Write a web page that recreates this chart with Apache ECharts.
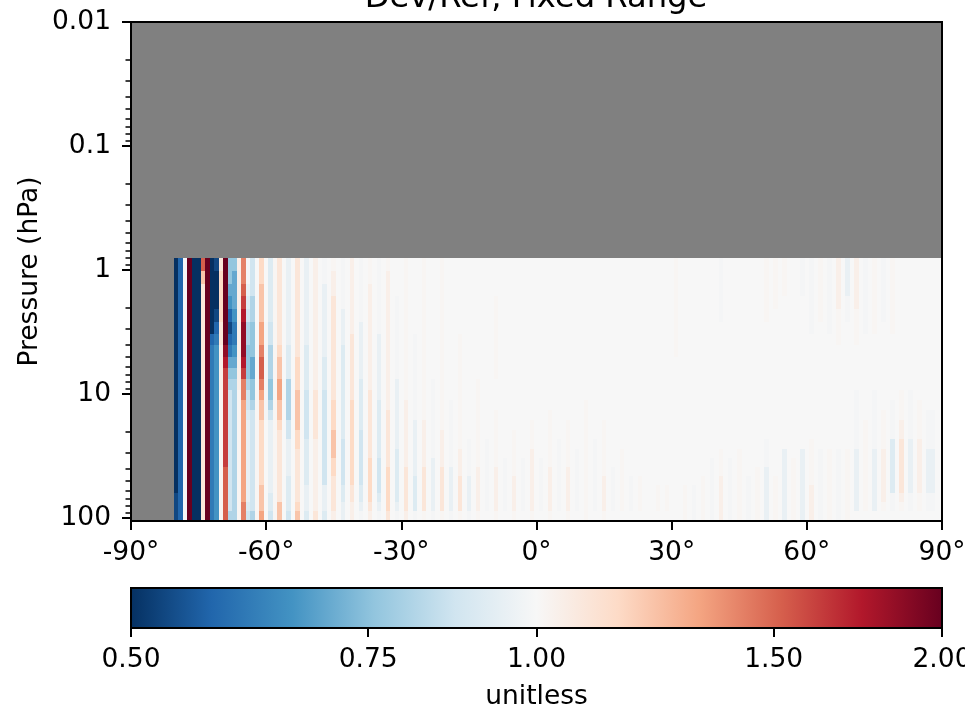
<!DOCTYPE html>
<html>
<head>
<meta charset="utf-8">
<style>html,body{margin:0;padding:0;background:#fff}#chart{width:965px;height:708px}</style>
<script src="https://cdn.jsdelivr.net/npm/echarts@6/dist/echarts.min.js"></script>
</head>
<body>
<div id="chart"></div>
<script>
// Pressure level edges (hPa), top to bottom: 25 data rows
const pressureEdges = [0.80,1.019,1.289,1.629,2.063,2.61,3.28,4.05,5.00,6.17,7.57,9.29,11.2,13.5,16.1,19.4,23.2,27.8,33.0,39.0,46.1,53.8,62.8,74.3,87.9,105.7];
const pressureRange = [0.01,105.7];
const latRange = [-90,90];
const latTicks = [-90,-60,-30,0,30,60,90];
const pressureTicks = [0.01,0.1,1,10,100];
const pressureMinorTicks = [0.02,0.03,0.04,0.05,0.06,0.07,0.08,0.09,0.2,0.3,0.4,0.5,0.6,0.7,0.8,0.9,2,3,4,5,6,7,8,9,20,30,40,50,60,70,80,90];
const colorbarRange = [0.5,2];
const colorbarTicks = [0.5,0.75,1,1.5,2];
const rdBuR = ['#053061','#2166ac','#4393c3','#92c5de','#d1e5f0','#f7f7f7','#fddbc7','#f4a582','#d6604d','#b2182b','#67001f'];
// Dev/Ref ratio, one code per cell
const ratioByCode = {l:0.5,k:0.53,j:0.574,i:0.61,h:0.66,g:0.70,f:0.76,e:0.81,d:0.87,c:0.91,b:0.95,a:0.988,'.':1,
  '1':1.012,'2':1.04,'3':1.09,'4':1.15,'5':1.22,'6':1.32,'7':1.42,'8':1.52,R:1.62,'9':1.74,Y:1.85,X:2};
const firstLatitude = -80;
const E = ".........................";
// One string per latitude (1 degree steps from -80), one character per pressure row, top to bottom
const colsSouthPolar = [ // -80 to -59
"llllllllllllllllllllllkkk","jjjjjjjjjjjjjjjjjjjjjjjjj",E,"XXXXXXXXXXXXXXXXXXXXXXXXX","lllllllllllllllllllllllll","lllllllllllllllllllllllll",
"8533333333333333333333333","XXXXXXXXXXXXXXXXXXXXXXXXX","lllllljiiiiiiiiiiiiiiiiii","klllkjihhhhhhhhhhhhhhhhhh",
"3444433222211111111111111","XXXXXXXY9RRRRRRRRRR888888","ffghjkjigfeddddddddddddde","fggghiihgfeeeeeeeeeeeeeee",
"2222222222211111111111111","778R9YYY9R776666666666677","aabcdeefffeddcbbbbbbbbbcd","dddeefffggffeddddddddddde",
"...........11111111111111","4455566788765544444445556",".....aaaaaaaaa...........","cccccddeeeffedbbbbbbbbccd"
];
const colsSouthMid = [ // -58 to -33
"1111111111111111111111111","3333333455665543333333355",E,"bbbbbbbccceeeeddbbbbccccd",E,"3333333344455554433333345",E,
"bbbbbbbccccdddddcccccbbbc",E,"2222222222233333222222223",E,"aabbbbbbcccddddddddddbbbc",E,
"1223333333334445554433332",E,"aaaabbbcccccccccdddddccbb",E,"2222223333334444444443322",E,
"aaaaabbbbbcccccddddddccba",E,"1122222222233333334444432",E,"aaaaaabbbbbbccccccddddcba",E,
"1222222222222333333444443"
];
const colsTropics = [ // -32 to 20
E,"...aaaaaaabbbbbbbccccccba",E,"1111111111112222222333332",E,"......aaaaaaaabbbbbbcccca",E,
"1111111111111122222333331",E,"..........aaaaaaaabbbbbba",E,"1111111111111112222333331",E,
"............aaaaaaabbbbba",E,"......1111111111122233331",E,"................aaaabbbba",E,
"..........111111111222221",E,"................aaaaaaaa.",E,"...1111111...111111222221",E,
"..................aaaaaa.",E,"...............1111122221",E,"..................aaaaaa.",E,
"..............11122222221",E,"..................aaaaaa.",E,".............111111222221",E,
"................aaaaaaaa.",E,"..............11111222221",E,".................aaaaaaa.",E,
"............1111111111111",E,"................aaaaaaaa.",E,"..............11111122221",E,
"...................aaaaa.",E,".................1111111.",E
];
const colsNorth = [ // 21 to 90
"....................aaaa.",E,"....................1111.",E,E,E,".....................111.",E,
".....................111.",E,"11111111.................",E,".....................1111",E,
".....................aaaa",E,"....................11111",E,"..................aaaaaaa",E,
"aaaaa............11122222",E,"..................aaaaaaa",E,".................11111111",E,
"....................aaaaa",E,"...................111111",E,"11111...........aaabbbbbb",E,
"1111................11111",E,"111..............bbbbbbbb",E,"..................1111111",E,
"aaa..............bbbbbbbb",E,"aaaaaa..........111112222",E,"11111............aaaaaaaa",E,
"aaaaaa...........11111111",E,"2222111..........aaaaaaaa",E,"bbbaa............11111111",E,
"2222111....aaaaaabbbbbbb.",E,"aaaaaa........1111111111.",E,"111111.....aaaaaabbbbbbb.",E,
"aaaaa........1111222222 1.".replace(' ','').slice(0,25),E,"111111......aaaaccccccaa.",E,
"...........11122333333 21".replace(' ',''),E,"...........aaaaabbbbbbaa.",E,
"............1111222222 11".replace(' ',''),E,".............aaaabbbbbaa.",".............aaaabbbbbaa.",E,E
];
const latitudeColumns = [...colsSouthPolar, ...colsSouthMid, ...colsTropics, ...colsNorth];

function ratioColor(v) {
  const t = Math.max(0, Math.min(1, Math.log(v / colorbarRange[0]) / Math.log(colorbarRange[1] / colorbarRange[0])));
  const p = t * (rdBuR.length - 1), i = Math.min(rdBuR.length - 2, Math.floor(p)), f = p - i;
  const a = parseInt(rdBuR[i].slice(1), 16), b = parseInt(rdBuR[i + 1].slice(1), 16);
  const mix = s => Math.round(((a >> s) & 255) * (1 - f) + ((b >> s) & 255) * f);
  return 'rgb(' + mix(16) + ',' + mix(8) + ',' + mix(0) + ')';
}

const cells = [];
latitudeColumns.forEach((col, c) => {
  const lat = firstLatitude + c;
  if (lat > latRange[1]) return;
  for (let r = 0; r < pressureEdges.length - 1; r++) {
    const code = col[r];
    const ratio = code === undefined ? 1 : ratioByCode[code];
    cells.push([lat, pressureEdges[r], pressureEdges[r + 1], ratio]);
  }
});

const FONT = 'DejaVu Sans';
const TICK = 26.5;
const chart = echarts.init(document.getElementById('chart'), null, {renderer: 'canvas'});

function frameItem(params, api) {
  const a = api.coord([api.value(0), api.value(2)]);
  const b = api.coord([api.value(1), api.value(3)]);
  return {type: 'rect', shape: {x: a[0], y: a[1], width: b[0] - a[0], height: b[1] - a[1]},
    style: {fill: null, stroke: '#000', lineWidth: 2}};
}

chart.setOption({
  animation: false,
  backgroundColor: '#fff',
  textStyle: {fontFamily: FONT, color: '#000'},
  title: {text: 'Dev/Ref, Fixed Range', left: 531, textAlign: 'center', top: -22,
    textStyle: {fontFamily: FONT, fontSize: 32.2, fontWeight: 'normal', color: '#000'}},
  grid: [
    {left: 131, top: 22, width: 811, height: 499, show: true, backgroundColor: '#808080', borderColor: '#000', borderWidth: 2, outerBoundsMode: 'none', containLabel: false},
    {left: 131, top: 588, width: 811, height: 40, show: false, outerBoundsMode: 'none', containLabel: false}
  ],
  xAxis: [
    {type: 'value', gridIndex: 0, min: latRange[0], max: latRange[1], interval: 30, splitLine: {show: false},
      axisLine: {show: true, onZero: false, lineStyle: {color: '#000', width: 2}},
      axisTick: {show: true, length: 9, lineStyle: {color: '#000', width: 2}},
      axisLabel: {show: true, color: '#000', fontFamily: FONT, fontSize: TICK, margin: 19, hideOverlap: false,
        showMinLabel: true, showMaxLabel: true, formatter: v => v + '°', customValues: latTicks}},
    {type: 'log', gridIndex: 1, logBase: 2, min: colorbarRange[0], max: colorbarRange[1], splitLine: {show: false},
      name: 'unitless', nameLocation: 'middle', nameGap: 56, nameMoveOverlap: false,
      nameTextStyle: {fontFamily: FONT, fontSize: TICK, color: '#000'},
      axisLine: {show: true, onZero: false, lineStyle: {color: '#000', width: 2}},
      axisTick: {show: true, length: 9, customValues: colorbarTicks, lineStyle: {color: '#000', width: 2}},
      minorTick: {show: false},
      axisLabel: {show: true, color: '#000', fontFamily: FONT, fontSize: TICK, margin: 19, hideOverlap: false,
        customValues: colorbarTicks, formatter: v => Number(v).toFixed(2)}}
  ],
  yAxis: [
    {type: 'log', gridIndex: 0, logBase: 10, inverse: true, min: pressureRange[0], max: pressureRange[1], splitLine: {show: false},
      name: 'Pressure (hPa)', nameLocation: 'middle', nameGap: 87, nameRotate: 90, nameMoveOverlap: false,
      nameTextStyle: {fontFamily: FONT, fontSize: TICK, color: '#000'},
      axisLine: {show: true, onZero: false, lineStyle: {color: '#000', width: 2}},
      axisTick: {show: true, length: 9, customValues: pressureTicks, lineStyle: {color: '#000', width: 2}},
      minorTick: {show: false},
      axisLabel: {show: true, color: '#000', fontFamily: FONT, fontSize: TICK, margin: 20, hideOverlap: false, padding: [3, 0, 0, 0],
        customValues: pressureTicks, formatter: v => String(v)}},
    {type: 'log', gridIndex: 0, logBase: 10, inverse: true, min: pressureRange[0], max: pressureRange[1], position: 'left', splitLine: {show: false},
      axisLine: {show: false, onZero: false},
      axisTick: {show: true, length: 5.5, customValues: pressureMinorTicks, lineStyle: {color: '#000', width: 1.5}},
      axisLabel: {show: false}},
    {type: 'value', gridIndex: 1, min: 0, max: 1, show: false}
  ],
  series: [
    {type: 'custom', coordinateSystem: 'cartesian2d', xAxisIndex: 0, yAxisIndex: 0, clip: true, silent: true,
      progressive: 0, data: cells, encode: {x: 0, y: 1},
      renderItem(params, api) {
        const a = api.coord([api.value(0) - 0.5, api.value(1)]);
        const b = api.coord([api.value(0) + 0.5, api.value(2)]);
        const x0 = Math.round(a[0]), x1 = Math.round(b[0]), y0 = Math.round(a[1]), y1 = Math.round(b[1]);
        return {type: 'rect', shape: {x: x0, y: y0, width: x1 - x0, height: y1 - y0},
          style: {fill: ratioColor(api.value(3))}};
      }},
    {type: 'custom', coordinateSystem: 'cartesian2d', xAxisIndex: 0, yAxisIndex: 0, clip: false, silent: true, z: 5,
      data: [[latRange[0], latRange[1], pressureRange[0], pressureRange[1]]], encode: {x: 0, y: 2},
      renderItem: frameItem},
    {type: 'custom', coordinateSystem: 'cartesian2d', xAxisIndex: 1, yAxisIndex: 2, clip: false, silent: true,
      data: [[colorbarRange[0], colorbarRange[1], 1, 0]], encode: {x: 0, y: 2},
      renderItem(params, api) {
        const a = api.coord([api.value(0), api.value(2)]);
        const b = api.coord([api.value(1), api.value(3)]);
        return {type: 'rect', shape: {x: a[0], y: a[1], width: b[0] - a[0], height: b[1] - a[1]},
          style: {stroke: '#000', lineWidth: 2, fill: {type: 'linear', x: 0, y: 0, x2: 1, y2: 0, global: false,
            colorStops: rdBuR.map((color, i) => ({offset: i / (rdBuR.length - 1), color}))}}};
      }}
  ]
});
</script>
</body>
</html>
